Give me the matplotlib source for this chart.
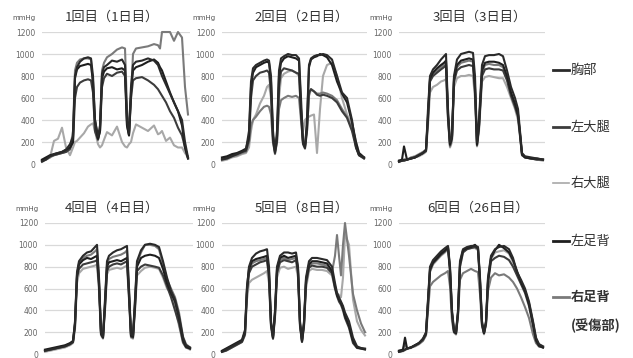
import matplotlib
matplotlib.use("Agg")
import matplotlib.pyplot as plt
from matplotlib.lines import Line2D

plt.rcParams['font.family'] = ['Noto Sans CJK JP', 'DejaVu Sans']

names = ["胸部", "左大腿", "右大腿", "左足背", "右足背"]
titles = ["1回目（1日目）", "2回目（2日目）", "3回目（3日目）",
          "4回目（4日目）", "5回目（8日目）", "6回目（26日目）"]
yticks = [0, 200, 400, 600, 800, 1000, 1200]

# panel 1
p1_t = [0, 4, 8, 12, 16, 20, 24, 28, 31, 33, 35, 38, 42, 46, 49, 51, 53, 56, 58, 60, 62, 65,
        70, 75, 80, 83, 85, 87, 89, 91, 94, 100, 106, 112, 116, 118, 120, 124, 128, 132, 136, 140, 143, 146]
p1_chest = [20, 40, 70, 90, 100, 110, 130, 180, 250, 800, 880, 930, 960, 970, 960, 800,
            400, 250, 350, 820, 880, 900, 940, 930, 950, 900, 400, 280, 700, 900, 930, 940,
            960, 940, 900, 850, 800, 720, 640, 560, 480, 400, 200, 60]
p1_lthigh = [30, 50, 70, 80, 90, 100, 110, 140, 200, 600, 700, 740, 760, 770, 760, 650,
             300, 220, 300, 700, 780, 820, 800, 830, 840, 800, 350, 260, 600, 760, 780, 790,
             760, 720, 680, 650, 620, 560, 480, 420, 330, 260, 150, 50]
p1_rthigh = [30, 40, 60, 210, 230, 330, 150, 80, 150, 200, 210, 240, 280, 340, 360, 370,
             300, 180, 150, 170, 220, 290, 260, 340, 200, 160, 150, 180, 200, 280, 360, 330,
             300, 350, 270, 280, 300, 210, 240, 170, 150, 150, 100, 60]
p1_lfoot = [40, 60, 80, 90, 100, 110, 130, 150, 200, 780, 860, 890, 900, 910, 900, 750,
            400, 230, 300, 780, 840, 870, 880, 860, 870, 850, 350, 260, 650, 850, 880, 900,
            930, 950, 920, 880, 850, 750, 650, 560, 480, 350, 150, 50]
p1_rfoot = [30, 40, 60, 80, 90, 100, 110, 130, 300, 850, 920, 950, 960, 960, 950, 700,
            300, 230, 300, 850, 920, 970, 1000, 1040, 1060, 1050, 500, 270, 600, 1000, 1050, 1060,
            1070, 1090, 1080, 1050, 1200, 1200, 1200, 1120, 1200, 1150, 700, 450]

# panel 2
p2_t = [0, 5, 10, 15, 20, 24, 27, 29, 31, 34, 38, 42, 45, 47, 49, 51, 53, 55, 57, 59, 62, 66,
        70, 74, 77, 79, 81, 83, 85, 87, 89, 92, 95, 98, 101, 105, 110, 115, 120, 125, 130, 134, 137, 142]
p2_chest = [40, 50, 70, 90, 110, 130, 300, 750, 870, 900, 920, 940, 950, 940, 800, 300,
            100, 300, 850, 960, 980, 1000, 990, 990, 960, 600, 200, 150, 400, 900, 960, 980,
            990, 990, 1000, 990, 950, 800, 650, 600, 400, 150, 80, 60]
p2_lthigh = [50, 60, 80, 90, 110, 120, 220, 600, 760, 800, 830, 840, 850, 830, 650, 200,
             110, 200, 700, 840, 870, 860, 850, 830, 820, 450, 180, 140, 300, 650, 680, 660,
             630, 620, 630, 620, 600, 560, 480, 420, 300, 150, 80, 50]
p2_rthigh = [30, 40, 60, 70, 90, 100, 150, 300, 400, 450, 550, 620, 700, 720, 600, 250,
             100, 250, 600, 780, 820, 840, 850, 830, 800, 500, 300, 400, 420, 430, 440, 450,
             100, 500, 800, 900, 920, 800, 600, 450, 350, 200, 100, 60]
p2_lfoot = [60, 70, 90, 100, 120, 140, 250, 700, 830, 880, 900, 920, 930, 920, 750, 250,
            120, 250, 800, 920, 960, 980, 970, 960, 940, 500, 200, 160, 350, 880, 950, 970,
            980, 1000, 990, 970, 900, 750, 640, 560, 380, 200, 100, 60]
p2_rfoot = [40, 50, 70, 80, 100, 110, 200, 350, 400, 430, 480, 520, 530, 520, 450, 200,
            90, 200, 500, 580, 600, 620, 610, 620, 600, 400, 200, 170, 300, 620, 680, 660,
            640, 640, 650, 640, 620, 580, 500, 430, 320, 170, 80, 50]

# panel 3
p3_t = [0, 3, 5, 8, 12, 16, 20, 24, 27, 29, 31, 34, 38, 42, 45, 47, 49, 51, 53, 55, 58, 62,
        66, 70, 74, 76, 78, 80, 83, 86, 90, 95, 100, 104, 108, 112, 116, 119, 121, 123, 126, 132, 138, 144]
p3_chest = [20, 30, 40, 40, 50, 60, 80, 100, 120, 500, 800, 860, 900, 950, 980, 1000,
            500, 200, 250, 800, 950, 1000, 1010, 1020, 1010, 800, 200, 400, 900, 980, 990, 990,
            1000, 980, 850, 700, 600, 500, 300, 100, 70, 60, 50, 40]
p3_lthigh = [20, 30, 30, 40, 50, 60, 80, 100, 120, 400, 750, 800, 830, 860, 880, 900,
             420, 170, 230, 750, 850, 880, 890, 900, 890, 650, 170, 330, 800, 860, 870, 860,
             860, 850, 760, 620, 520, 430, 260, 80, 60, 50, 40, 40]
p3_rthigh = [30, 30, 30, 40, 50, 60, 70, 90, 110, 350, 650, 700, 720, 750, 760, 770,
             400, 150, 200, 700, 780, 800, 800, 810, 800, 600, 160, 300, 750, 790, 800, 790,
             780, 780, 700, 600, 500, 400, 250, 80, 60, 50, 40, 30]
p3_lfoot = [30, 40, 160, 40, 50, 60, 80, 100, 130, 450, 780, 830, 870, 900, 920, 940,
            450, 180, 250, 780, 900, 940, 950, 960, 950, 700, 180, 350, 850, 920, 930, 930,
            920, 900, 800, 650, 550, 450, 280, 90, 60, 50, 50, 40]
p3_rfoot = [30, 30, 30, 40, 60, 70, 90, 110, 130, 420, 760, 820, 850, 880, 900, 920,
            430, 160, 240, 760, 880, 920, 930, 940, 930, 680, 170, 340, 830, 900, 910, 900,
            900, 880, 780, 640, 530, 450, 270, 90, 60, 50, 40, 40]

# panel 4
p4_t = [0, 5, 10, 15, 20, 25, 28, 30, 32, 34, 38, 42, 46, 50, 52, 54, 56, 58, 60, 62, 64, 68,
        72, 76, 80, 82, 84, 86, 88, 90, 92, 96, 100, 105, 110, 114, 118, 122, 126, 130, 134, 138, 141, 145]
p4_chest = [30, 40, 50, 60, 70, 90, 110, 300, 750, 850, 900, 930, 940, 980, 1000, 700,
            200, 160, 500, 850, 900, 930, 950, 960, 980, 990, 600, 180, 170, 500, 850, 950,
            1000, 1010, 1000, 980, 850, 700, 580, 500, 350, 150, 80, 60]
p4_lthigh = [30, 40, 50, 60, 70, 90, 110, 250, 700, 780, 820, 830, 840, 850, 860, 620,
             180, 150, 420, 760, 800, 820, 830, 820, 840, 850, 520, 160, 150, 420, 760, 800,
             820, 810, 800, 790, 720, 620, 520, 400, 280, 110, 60, 50]
p4_rthigh = [20, 30, 40, 50, 60, 80, 100, 230, 650, 740, 780, 790, 800, 810, 820, 580,
             170, 140, 400, 730, 770, 780, 790, 780, 800, 810, 500, 150, 140, 400, 720, 760,
             790, 800, 790, 780, 700, 600, 560, 420, 260, 100, 60, 40]
p4_lfoot = [40, 50, 60, 70, 80, 100, 120, 280, 720, 820, 860, 880, 870, 890, 900, 650,
            190, 150, 450, 800, 840, 850, 860, 850, 870, 880, 550, 170, 160, 450, 800, 880,
            900, 910, 900, 880, 780, 650, 560, 480, 330, 130, 70, 50]
p4_rfoot = [30, 40, 50, 65, 75, 95, 115, 270, 730, 830, 880, 900, 910, 940, 960, 680,
            200, 160, 470, 820, 870, 890, 900, 910, 930, 950, 580, 175, 165, 480, 830, 930,
            1000, 1000, 990, 960, 820, 680, 600, 520, 380, 160, 90, 60]

# panel 5
p5_t = [0, 4, 8, 12, 16, 20, 23, 25, 27, 30, 34, 38, 42, 45, 47, 49, 51, 53, 55, 58, 62, 66,
        70, 74, 76, 78, 80, 82, 84, 87, 90, 95, 100, 105, 110, 113, 115, 117, 119, 121, 123,
        127, 131, 135, 139, 143]
p5_chest = [20, 40, 60, 80, 100, 120, 200, 600, 800, 880, 920, 940, 950, 960, 800, 300,
            160, 400, 800, 900, 930, 930, 920, 930, 800, 300, 130, 300, 700, 850, 880, 880,
            870, 860, 800, 650, 560, 520, 480, 440, 380, 300, 150, 70, 55, 50]
p5_lthigh = [20, 30, 50, 70, 90, 110, 180, 560, 740, 800, 820, 840, 850, 860, 700, 260,
             140, 350, 740, 840, 860, 850, 840, 860, 740, 260, 110, 260, 640, 790, 810, 800,
             800, 790, 740, 600, 530, 480, 450, 400, 330, 240, 100, 55, 50, 40]
p5_rthigh = [20, 30, 50, 70, 90, 110, 170, 500, 650, 680, 700, 720, 740, 760, 650, 250,
             140, 330, 700, 790, 800, 780, 790, 800, 700, 250, 110, 250, 600, 760, 780, 770,
             770, 760, 720, 600, 560, 540, 520, 700, 1100, 1000, 500, 300, 220, 170]
p5_lfoot = [30, 50, 70, 90, 110, 130, 220, 620, 780, 850, 870, 880, 890, 900, 750, 280,
            150, 380, 780, 880, 900, 880, 890, 900, 780, 280, 120, 280, 680, 820, 850, 850,
            840, 830, 760, 620, 540, 500, 470, 420, 350, 260, 120, 60, 50, 45]
p5_rfoot = [25, 40, 60, 80, 100, 120, 190, 580, 760, 830, 850, 860, 870, 880, 720, 270,
            150, 360, 760, 860, 880, 860, 870, 880, 760, 270, 115, 270, 660, 800, 830, 830,
            820, 810, 750, 900, 1090, 900, 720, 1000, 1200, 900, 550, 400, 280, 200]

# panel 6
p6_t = [0, 4, 6, 8, 12, 16, 20, 24, 27, 29, 31, 34, 38, 42, 46, 49, 51, 53, 55, 57, 59, 61,
        64, 68, 72, 76, 79, 81, 83, 85, 87, 89, 92, 96, 100, 105, 110, 114, 118, 122, 126,
        130, 134, 137, 140, 144]
p6_chest = [20, 30, 40, 50, 60, 80, 100, 140, 200, 500, 800, 860, 900, 940, 970, 990,
            800, 400, 220, 200, 400, 850, 960, 980, 990, 990, 980, 700, 300, 200, 300, 700,
            900, 960, 980, 990, 960, 880, 750, 680, 600, 480, 300, 150, 90, 70]
p6_lthigh = [20, 30, 40, 50, 60, 80, 100, 130, 180, 460, 760, 830, 870, 910, 940, 970,
             760, 370, 200, 190, 370, 800, 930, 960, 970, 980, 960, 660, 270, 190, 280, 650,
             850, 880, 900, 890, 860, 800, 720, 640, 560, 440, 260, 120, 70, 60]
p6_rthigh = [20, 25, 35, 45, 55, 75, 95, 130, 180, 450, 750, 820, 860, 900, 930, 960,
             750, 360, 200, 180, 360, 800, 940, 960, 970, 970, 950, 650, 260, 180, 270, 660,
             870, 930, 940, 950, 920, 840, 740, 660, 580, 470, 290, 140, 90, 70]
p6_lfoot = [30, 40, 150, 50, 60, 80, 100, 140, 190, 480, 780, 840, 880, 920, 950, 980,
            780, 380, 210, 190, 380, 830, 950, 970, 980, 1000, 970, 680, 280, 190, 290, 680,
            880, 950, 1000, 970, 930, 860, 760, 660, 580, 460, 280, 130, 80, 60]
p6_rfoot = [30, 40, 100, 50, 60, 70, 90, 120, 170, 400, 620, 660, 690, 720, 740, 760,
            620, 300, 200, 180, 350, 680, 740, 760, 780, 760, 750, 550, 260, 190, 270, 580,
            700, 740, 720, 730, 700, 660, 600, 520, 430, 330, 180, 100, 70, 60]

panels = [
    (p1_t, [p1_chest, p1_lthigh, p1_rthigh, p1_lfoot, p1_rfoot]),
    (p2_t, [p2_chest, p2_lthigh, p2_rthigh, p2_lfoot, p2_rfoot]),
    (p3_t, [p3_chest, p3_lthigh, p3_rthigh, p3_lfoot, p3_rfoot]),
    (p4_t, [p4_chest, p4_lthigh, p4_rthigh, p4_lfoot, p4_rfoot]),
    (p5_t, [p5_chest, p5_lthigh, p5_rthigh, p5_lfoot, p5_rfoot]),
    (p6_t, [p6_chest, p6_lthigh, p6_rthigh, p6_lfoot, p6_rfoot]),
]

colors = ["#2a2a2a", "#3c3c3c", "#a8a8a8", "#1e1e1e", "#7a7a7a"]
draw_order = [2, 4, 1, 3, 0]

W, H = 633, 358
fig = plt.figure(figsize=(W / 100, H / 100), dpi=100)

# axes boxes in pixels: left, top, right, bottom
boxes = [(42, 32, 190, 164), (222, 32, 367, 164), (399, 32, 545, 164),
         (45, 223, 193, 354), (222, 223, 367, 354), (399, 223, 545, 354)]
title_cx = [112, 302, 480, 112, 302, 478]

for i, (box, (t, series)) in enumerate(zip(boxes, panels)):
    l, tp, r, b = box
    ax = fig.add_axes([l / W, 1 - b / H, (r - l) / W, (b - tp) / H])
    ax.set_xlim(0, r - l)
    ax.set_ylim(0, 1200)
    ax.set_yticks(yticks)
    ax.set_yticklabels([str(v) for v in yticks], fontsize=5.5, color="#666666",
                       family=["DejaVu Sans"])
    ax.tick_params(axis="y", length=0, pad=5)
    ax.set_xticks([])
    ax.grid(axis="y", color="#d9d9d9", lw=0.9)
    ax.set_axisbelow(True)
    for s in ax.spines.values():
        s.set_visible(False)
    for k in draw_order:
        ax.plot(t, series[k], color=colors[k], lw=1.5, clip_on=False)
    ax.text(-30 / (r - l), 1 + 14 / (b - tp), "mmHg", transform=ax.transAxes,
            fontsize=5, color="#555555", va="center", ha="left", family=["DejaVu Sans"])
    fig.text(title_cx[i] / W, 1 - (tp - 15) / H, titles[i], fontsize=9.5,
             color="#333333", ha="center", va="center")

# legend on the right
leg_y = [70, 127, 183, 241, 297]
for k, y in enumerate(leg_y):
    fig.add_artist(Line2D([553 / W, 569 / W], [1 - y / H, 1 - y / H],
                          color=colors[k], lw=2 if k != 2 else 1.2))
    fig.text(571 / W, 1 - y / H, names[k], fontsize=9.5, color="#333333",
             va="center", ha="left", weight="bold" if k == 4 else "normal")
fig.text(571 / W, 1 - 326 / H, "(受傷部)", fontsize=9.5, color="#333333",
         va="center", ha="left", weight="bold")

fig.savefig("out.png", dpi=100)
